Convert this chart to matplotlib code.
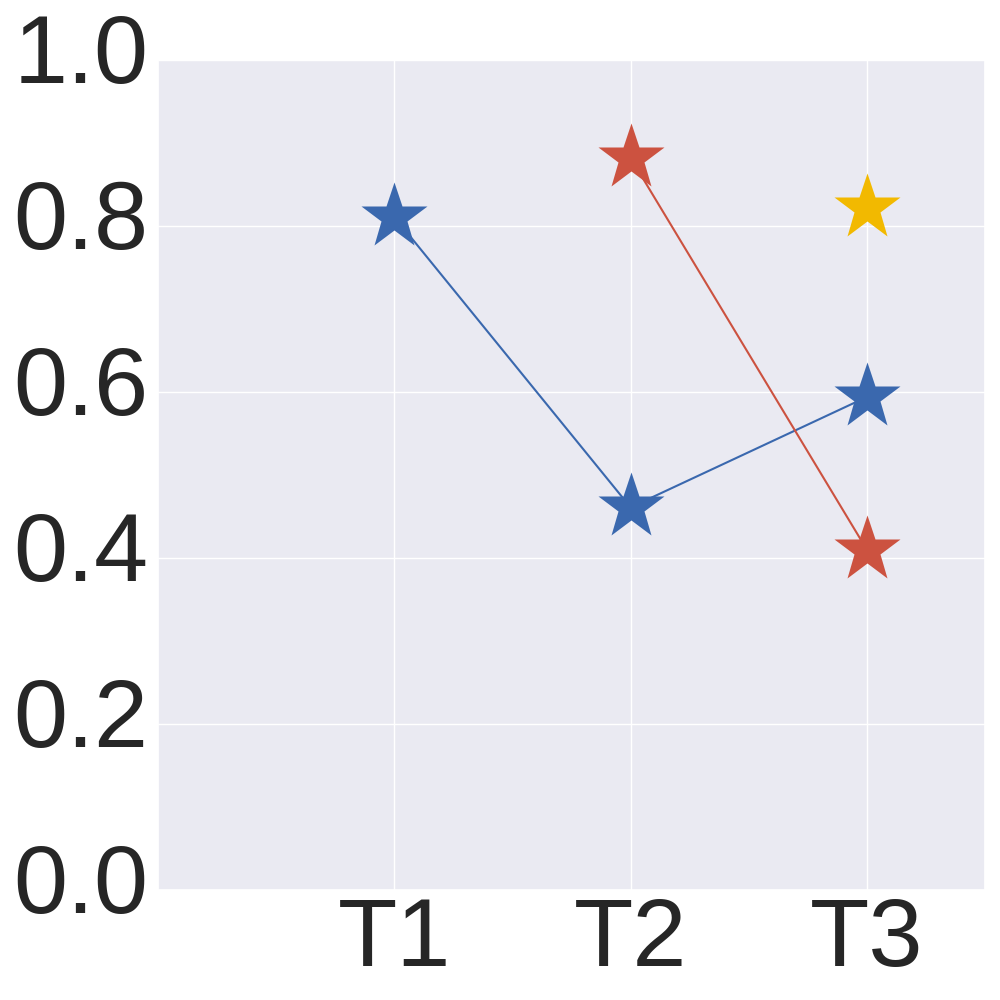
import matplotlib

matplotlib.use("Agg")
import matplotlib.pyplot as plt
import matplotlib.transforms as mtransforms
import seaborn as sns

sns.set_theme(style="darkgrid")
plt.rcParams["font.family"] = ["Liberation Sans", "DejaVu Sans"]

# data
blue_x = [1, 2, 3]
blue_y = [0.811, 0.461, 0.594]
red_x = [2, 3]
red_y = [0.882, 0.410]
yellow_x = [3]
yellow_y = [0.822]
tick_pos = [1, 2, 3]
tick_labels = ["T1", "T2", "T3"]

blue = "#3a68ae"
red = "#cc5240"
yellow = "#f2b900"

fig = plt.figure(figsize=(10, 10), dpi=100)
ax = fig.add_axes([0.158, 0.11, 0.827, 0.83])

ax.plot(blue_x, blue_y, color=blue, lw=1.5, marker="*", ms=50, mec="none")
ax.plot(red_x, red_y, color=red, lw=1.5, marker="*", ms=50, mec="none")
ax.plot(yellow_x, yellow_y, color=yellow, lw=1.5, marker="*", ms=50, mec="none", ls="none")

ax.set_xlim(0, 3.5)
ax.set_ylim(0, 1.0)
ax.set_xticks(tick_pos)
ax.set_xticklabels(tick_labels)
ax.set_yticks([0.0, 0.2, 0.4, 0.6, 0.8, 1.0])
ax.tick_params(labelsize=70, colors="#262626")
ax.tick_params(axis="x", pad=-2)
ax.tick_params(axis="y", pad=1)

# y labels sit a little above their grid lines in the reference
shift = mtransforms.ScaledTranslation(0, 12 / 100, fig.dpi_scale_trans)
for lab in ax.get_yticklabels():
    lab.set_transform(lab.get_transform() + shift)

fig.savefig("out.png", dpi=100)
